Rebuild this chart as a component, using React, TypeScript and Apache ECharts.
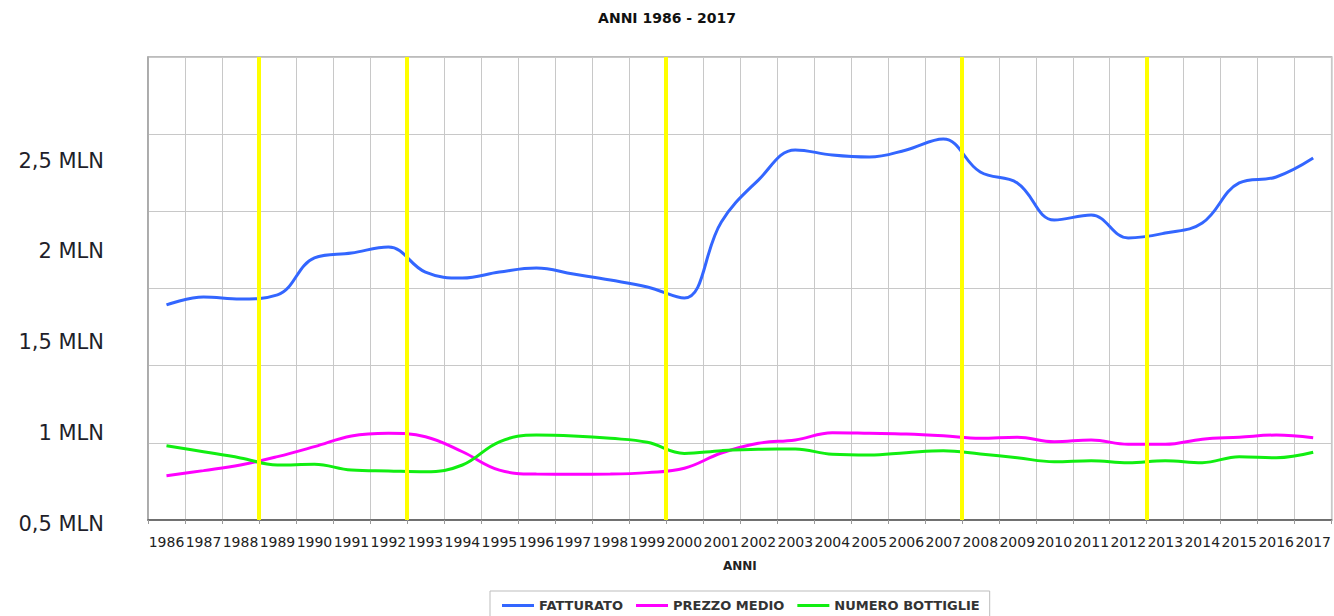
import React, { useEffect, useRef } from 'react';
import * as echarts from 'echarts';

const YEARS = [
  '1986', '1987', '1988', '1989', '1990', '1991', '1992', '1993',
  '1994', '1995', '1996', '1997', '1998', '1999', '2000', '2001',
  '2002', '2003', '2004', '2005', '2006', '2007', '2008', '2009',
  '2010', '2011', '2012', '2013', '2014', '2015', '2016', '2017',
];

const FATTURATO = [
  1.685, 1.729, 1.718, 1.74, 1.944, 1.971, 2.004, 1.866,
  1.833, 1.866, 1.888, 1.855, 1.822, 1.784, 1.723, 2.142,
  2.373, 2.539, 2.511, 2.5, 2.539, 2.599, 2.417, 2.357,
  2.153, 2.18, 2.054, 2.081, 2.136, 2.357, 2.39, 2.494,
];

const PREZZO_MEDIO = [
  0.744, 0.772, 0.803, 0.849, 0.904, 0.963, 0.978, 0.959,
  0.876, 0.775, 0.753, 0.752, 0.753, 0.761, 0.785, 0.869,
  0.923, 0.941, 0.981, 0.978, 0.974, 0.964, 0.95, 0.956,
  0.931, 0.941, 0.917, 0.917, 0.945, 0.956, 0.968, 0.953,
];

const NUMERO_BOTTIGLIE = [
  0.909, 0.876, 0.842, 0.803, 0.807, 0.775, 0.77, 0.766,
  0.803, 0.931, 0.968, 0.963, 0.95, 0.928, 0.867, 0.882,
  0.89, 0.891, 0.862, 0.858, 0.871, 0.882, 0.864, 0.843,
  0.821, 0.827, 0.816, 0.827, 0.816, 0.849, 0.843, 0.873,
];

const Y_TICKS = [0.5, 1, 1.5, 2, 2.5];
const PERIOD_END_YEARS = ['1988', '1992', '1999', '2007', '2012'];
const SERIES_NAMES = ['FATTURATO', 'PREZZO MEDIO', 'NUMERO BOTTIGLIE'];
const SERIES_COLORS = ['#3366ff', '#ff00ff', '#11ee11'];

export default function App() {
  const ref = useRef<HTMLDivElement>(null);

  useEffect(() => {
    if (!ref.current) return;
    const chart = echarts.init(ref.current, null, { renderer: 'svg' });
    const boundaries = PERIOD_END_YEARS.map((y) => YEARS.indexOf(y) + 1);
    const values = [FATTURATO, PREZZO_MEDIO, NUMERO_BOTTIGLIE];

    const font = 'DejaVu Sans';

    chart.setOption({
      animation: false,
      backgroundColor: '#ffffff',
      title: {
        text: 'ANNI 1986 - 2017',
        left: 'center',
        top: 6,
        textStyle: { fontFamily: font, fontWeight: 'bold', fontSize: 14, color: '#111' },
      },
      legend: {
        data: SERIES_NAMES,
        left: 490,
        top: 591,
        icon: 'rect',
        itemWidth: 32,
        itemHeight: 3,
        itemGap: 13,
        padding: [8, 10, 8, 12],
        borderColor: '#bdbdbd',
        borderWidth: 1,
        textStyle: { fontFamily: font, fontWeight: 'bold', fontSize: 13, color: '#333' },
      },
      grid: {
        left: 148,
        right: 2,
        top: 57,
        bottom: 96,
        show: true,
        borderColor: '#a6a6a6',
        borderWidth: 1.5,
      },
      xAxis: [
        {
          type: 'category',
          data: YEARS,
          boundaryGap: true,
          name: 'ANNI',
          nameLocation: 'middle',
          nameGap: 40,
          nameTextStyle: { fontFamily: font, fontWeight: 'bold', fontSize: 12, color: '#222' },
          axisLine: { show: true, lineStyle: { color: '#555', width: 1.5 } },
          axisTick: { show: true, interval: 0, length: 4, lineStyle: { color: '#999' } },
          axisLabel: { interval: 0, margin: 15, fontFamily: font, fontSize: 14, color: '#222' },
          splitLine: { show: true, interval: 0, lineStyle: { color: '#c8c8c8', width: 1 } },
        },
        { type: 'value', min: 0, max: YEARS.length, show: false },
      ],
      yAxis: [
        {
          type: 'value',
          min: 0,
          max: 6,
          interval: 1,
          axisLine: { show: true, lineStyle: { color: '#a6a6a6', width: 1.5 } },
          axisTick: { show: false },
          axisLabel: { show: false },
          splitLine: { show: true, lineStyle: { color: '#c8c8c8', width: 1 } },
        },
        {
          type: 'value',
          min: 0.5,
          max: 3.051,
          position: 'left',
          axisLine: { show: false },
          axisTick: { show: false },
          splitLine: { show: false },
          axisLabel: {
            customValues: Y_TICKS,
            margin: 44,
            fontFamily: font,
            fontSize: 21,
            color: '#1f1f2a',
            verticalAlign: 'top',
            lineHeight: 7,
            formatter: (v: number) => String(v).replace('.', ',') + ' MLN',
          },
        },
      ],
      series: [
        ...SERIES_NAMES.map((name, i) => ({
          name,
          type: 'line',
          data: values[i],
          xAxisIndex: 0,
          yAxisIndex: 1,
          smooth: 0.4,
          symbol: 'none',
          lineStyle: { color: SERIES_COLORS[i], width: 3 },
          itemStyle: { color: SERIES_COLORS[i] },
          z: 3,
        })),
        {
          name: 'periodi',
          type: 'line',
          xAxisIndex: 1,
          yAxisIndex: 0,
          data: [],
          symbol: 'none',
          z: 10,
          markLine: {
            silent: true,
            symbol: ['none', 'none'],
            label: { show: false },
            lineStyle: { color: '#ffff00', width: 4, type: 'solid' },
            data: boundaries.map((b) => ({ xAxis: b })),
          },
        },
      ],
    });

    return () => chart.dispose();
  }, []);

  return (
    <div
      ref={ref}
      style={{ position: 'fixed', left: 0, top: 0, width: 1334, height: 616 }}
    />
  );
}
